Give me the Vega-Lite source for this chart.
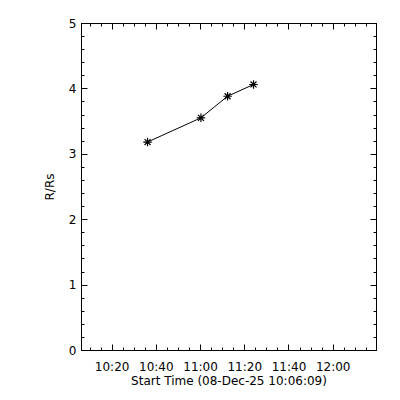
{
  "$schema": "https://vega.github.io/schema/vega-lite/v6.json",
  "autosize": "none",
  "width": 295,
  "height": 327,
  "padding": {"left": 81, "top": 23, "right": 24, "bottom": 50},
  "background": "white",
  "config": {
    "view": {"stroke": "black", "strokeWidth": 1},
    "font": "DejaVu Sans",
    "axis": {
      "domainColor": "black",
      "tickColor": "black",
      "labelColor": "black",
      "titleColor": "black",
      "grid": false,
      "labelFont": "DejaVu Sans",
      "titleFont": "DejaVu Sans",
      "labelFontSize": 12,
      "titleFontSize": 12,
      "titleFontWeight": "normal",
      "zindex": 1
    }
  },
  "data": {
    "values": [
      {"t": "2025-12-08T10:36:15Z", "r": 3.18},
      {"t": "2025-12-08T11:00:24Z", "r": 3.55},
      {"t": "2025-12-08T11:12:27Z", "r": 3.88},
      {"t": "2025-12-08T11:24:11Z", "r": 4.06}
    ]
  },
  "resolve": {"axis": {"x": "independent", "y": "independent"}},
  "layer": [
    {
      "mark": {"type": "line", "color": "black", "strokeWidth": 1},
      "encoding": {
        "x": {
          "field": "t", "type": "temporal",
          "scale": {"type": "utc", "domain": [1765188369000, 1765196375000], "nice": false},
          "axis": {
            "orient": "bottom", "title": "Start Time (08-Dec-25 10:06:09)",
            "labelExpr": "utcFormat(datum.value, '%H:%M')",
            "values": [1765189200000, 1765190400000, 1765191600000, 1765192800000, 1765194000000, 1765195200000],
            "tickSize": -6, "labelPadding": 17, "titlePadding": 3,
            "labelFlush": false, "labelOverlap": false
          }
        },
        "y": {
          "field": "r", "type": "quantitative",
          "scale": {"domain": [0, 5], "nice": false, "zero": false},
          "axis": {
            "orient": "left", "title": "R/Rs",
            "values": [0, 1, 2, 3, 4, 5],
            "tickSize": -6, "labelPadding": 11, "titlePadding": 12,
            "labelFlush": false
          }
        }
      }
    },
    {
      "mark": {"type": "point", "shape": "M-1,0L1,0M0,-1L0,1M-0.7,-0.7L0.7,0.7M-0.7,0.7L0.7,-0.7", "filled": false, "stroke": "black", "strokeWidth": 1.2, "size": 72, "opacity": 1},
      "encoding": {
        "x": {"field": "t", "type": "temporal",
          "axis": {"orient": "top", "title": null, "labels": false,
            "values": [1765189200000, 1765190400000, 1765191600000, 1765192800000, 1765194000000, 1765195200000], "tickSize": -6}},
        "y": {"field": "r", "type": "quantitative",
          "axis": {"orient": "right", "title": null, "labels": false,
            "values": [0, 1, 2, 3, 4, 5], "tickSize": -6}}
      }
    },
    {
      "mark": {"type": "point", "opacity": 0},
      "encoding": {
        "x": {"field": "t", "type": "temporal",
          "axis": {"orient": "bottom", "title": null, "labels": false,
            "values": [1765188600000, 1765188900000, 1765189200000, 1765189500000, 1765189800000, 1765190100000, 1765190400000, 1765190700000, 1765191000000, 1765191300000, 1765191600000, 1765191900000, 1765192200000, 1765192500000, 1765192800000, 1765193100000, 1765193400000, 1765193700000, 1765194000000, 1765194300000, 1765194600000, 1765194900000, 1765195200000, 1765195500000, 1765195800000, 1765196100000], "tickSize": -3}},
        "y": {"field": "r", "type": "quantitative",
          "axis": {"orient": "left", "title": null, "labels": false,
            "values": [0, 0.2, 0.4, 0.6, 0.8, 1, 1.2, 1.4, 1.6, 1.8, 2, 2.2, 2.4, 2.6, 2.8, 3, 3.2, 3.4, 3.6, 3.8, 4, 4.2, 4.4, 4.6, 4.8, 5], "tickSize": -3}}
      }
    },
    {
      "mark": {"type": "point", "opacity": 0},
      "encoding": {
        "x": {"field": "t", "type": "temporal",
          "axis": {"orient": "top", "title": null, "labels": false,
            "values": [1765188600000, 1765188900000, 1765189200000, 1765189500000, 1765189800000, 1765190100000, 1765190400000, 1765190700000, 1765191000000, 1765191300000, 1765191600000, 1765191900000, 1765192200000, 1765192500000, 1765192800000, 1765193100000, 1765193400000, 1765193700000, 1765194000000, 1765194300000, 1765194600000, 1765194900000, 1765195200000, 1765195500000, 1765195800000, 1765196100000], "tickSize": -3}},
        "y": {"field": "r", "type": "quantitative",
          "axis": {"orient": "right", "title": null, "labels": false,
            "values": [0, 0.2, 0.4, 0.6, 0.8, 1, 1.2, 1.4, 1.6, 1.8, 2, 2.2, 2.4, 2.6, 2.8, 3, 3.2, 3.4, 3.6, 3.8, 4, 4.2, 4.4, 4.6, 4.8, 5], "tickSize": -3}}
      }
    }
  ]
}
